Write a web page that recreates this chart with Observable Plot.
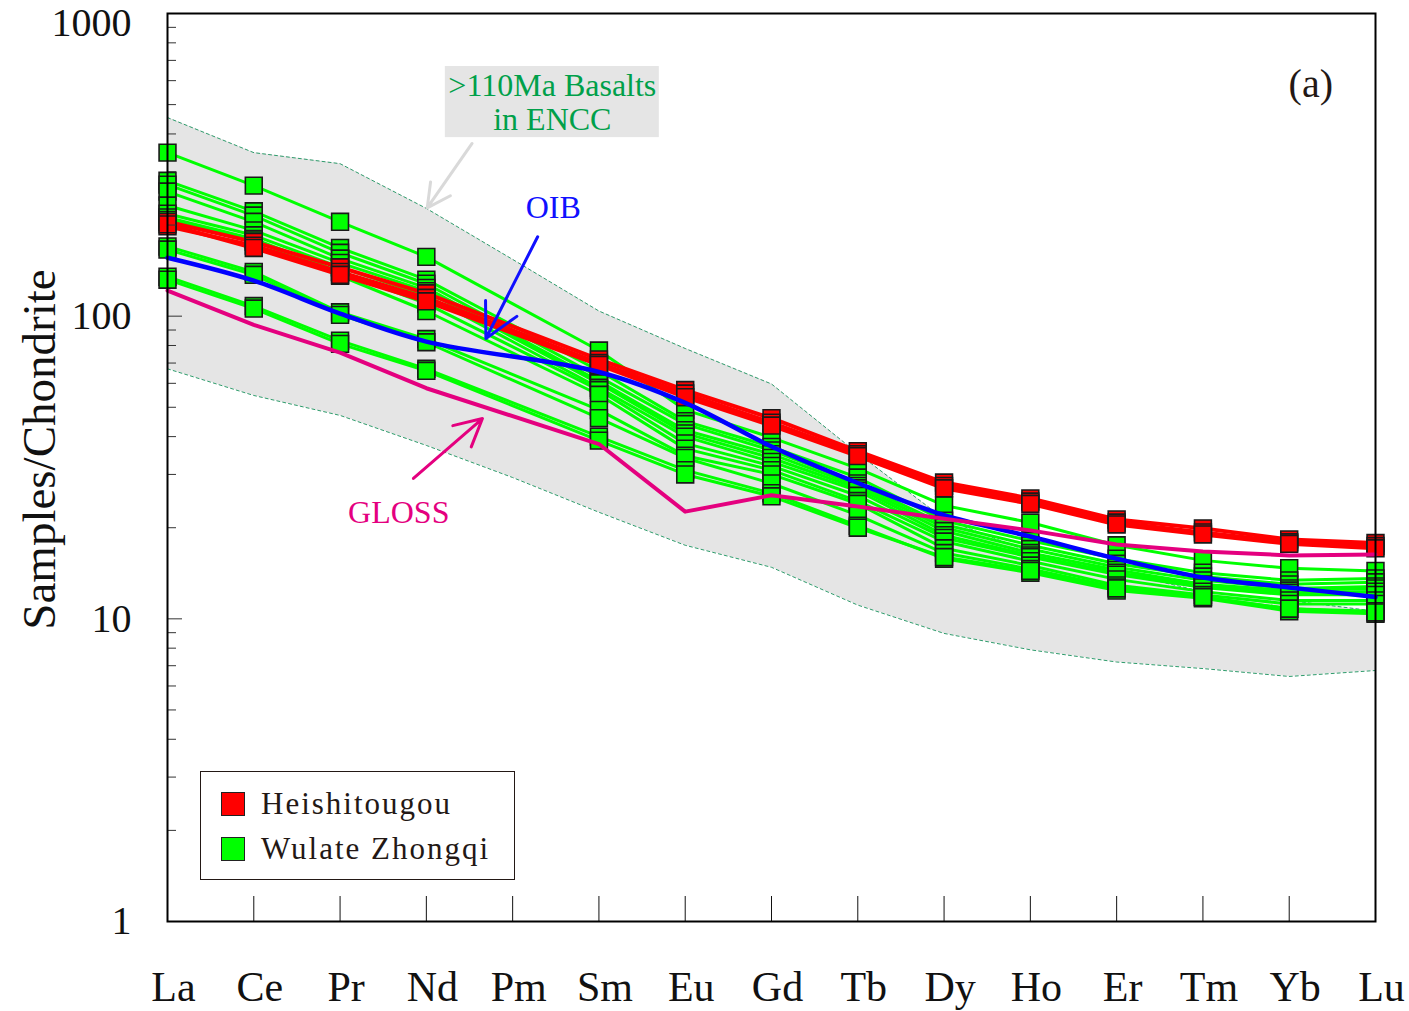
<!DOCTYPE html>
<html><head><meta charset="utf-8">
<script src="https://cdn.jsdelivr.net/npm/d3@7"></script>
<script src="https://cdn.jsdelivr.net/npm/@observablehq/plot@0.6"></script>
<style>
body{margin:0;background:#fff;}
#wrap{position:relative;width:1409px;height:1011px;font-family:"Liberation Serif",serif;}
#legend{position:absolute;left:200px;top:771px;width:315px;height:109px;border:1.6px solid #231815;background:#fff;box-sizing:border-box;}
.item{position:absolute;left:20px;display:flex;align-items:center;font-size:31px;letter-spacing:2px;color:#231815;}
.sw{width:24px;height:24px;border:1.5px solid #222;margin-right:16px;box-sizing:border-box;}
</style></head>
<body><div id="wrap"><div id="chart"></div>
<div id="legend">
  <div class="item" style="top:14px"><div class="sw" style="background:#ff0000"></div><span id="lg1"></span></div>
  <div class="item" style="top:59px"><div class="sw" style="background:#00ff00"></div><span id="lg2"></span></div>
</div></div>
<script>
// ---- categories ----
const ree = ["La","Ce","Pr","Nd","Pm","Sm","Eu","Gd","Tb","Dy","Ho","Er","Tm","Yb","Lu"];
// ---- tick values ----
const yTicks = [1, 10, 100];
const yTopTick = [1000];
const yMajorInner = [10, 100];
const yMinorTicks = [2,3,4,5,6,7,8,9,20,30,40,50,60,70,80,90,200,300,400,500,600,700,800,900];
const xInnerTicks = [1,2,3,4,5,6,7,8,9,10,11,12,13];
const yLabel = "Samples/Chondrite";
const legendNames = ["Heishitougou", "Wulate Zhongqi"];

// ---- Heishitougou (red) samples, null = Pm not analysed ----
const red1 = [205, 176, 145, 119, null, 72, 57, 46, 35.8, 28.2, 25.0, 21.3, 19.9, 18.3, 17.8];
const red2 = [198, 171, 140, 115, null, 70, 55.5, 44.5, 35.0, 27.5, 24.4, 20.8, 19.3, 17.9, 17.4];
const red3 = [201, 168, 137, 112, null, 69, 54, 43.5, 34.5, 27.0, 24.0, 20.5, 19.0, 17.7, 17.1];

// ---- Wulate Zhongqi (green) samples ----
const grn1  = [347, 270, 205, 157, null, 77, 49, 39.7, 31.4, 23.7, 20.8, 17.5, 15.6, 14.7, 14.4];
const grn2  = [280, 222, 168, 132, null, 66, 45, 37, 29.3, 21.1, 18.1, 15.8, 14.2, 13.4, 13.6];
const grn3  = [272, 215, 162, 128, null, 63, 44, 36, 28, 20.5, 17.5, 15.2, 13.8, 13.0, 13.2];
const grn4  = [258, 205, 155, 124, null, 61, 42, 35, 27.5, 20, 17, 14.8, 13.4, 12.6, 12.8];
const grn5  = [232, 192, 150, 121, null, 60, 41, 34, 27, 19.5, 16.5, 14.5, 13.0, 12.4, 12.6];
const grn6  = [218, 185, 145, 117, null, 58, 40, 33, 26.5, 18.9, 16.2, 14.2, 12.9, 12.2, 12.3];
const grn7  = [212, 180, 140, 110, null, 57, 38, 32, 25.5, 18.5, 16, 14.0, 12.7, 12.0, 12.0];
const grn8  = [208, 178, 136, 104, null, 55, 36.5, 31, 24.5, 18, 15.5, 13.5, 12.3, 11.5, 11.5];
const grn9  = [170, 140, 103, 84, null, 49, 34.6, 30, 24, 17.1, 15, 12.9, 12.0, 11.2, 11.2];
const grn10 = [166, 137, 101, 82, null, 46, 34, 28, 22, 16.5, 14.6, 12.7, 11.8, 10.8, 10.6];
const grn11 = [135, 108, 83, 67, null, 40, 31, 26, 20.3, 15.8, 14.2, 12.4, 11.7, 10.6, 10.4];
const grn12 = [132, 106, 81, 66, null, 38.8, 30, 25.4, 20, 16.0, 14.4, 12.6, 11.8, 10.8, 10.5];

// ---- reference curves ----
const oib   = [156, 131, 102, 82.4, null, 65.4, 51.7, 37.1, 28.1, 22.0, 18.7, 15.8, 13.7, 12.7, 11.8];
const gloss = [121.5, 93.6, 75.8, 57.8, null, 37.8, 22.6, 25.6, 23.5, 21.4, 19.6, 17.6, 16.7, 16.2, 16.3];

// ---- >110 Ma basalts in ENCC envelope ----
const envHi = [453, 347, 319, 227, 154, 104, 78.2, 59.7, 35.2, 21.4, 16.6, 14.3, 12.3, 11.5, 10.6];
const envLo = [67, 54.7, 47, 37.4, 29.3, 22.5, 17.5, 14.8, 11.1, 8.95, 7.9, 7.2, 6.85, 6.45, 6.75];

// ---- annotations (data coords: x = REE index, y = normalized value) ----
const annText = [
  {x: 4.46, y: 578, text: ">110Ma Basalts", fill: "#00a04a"},
  {x: 4.46, y: 446, text: "in ENCC", fill: "#00a04a"},
  {x: 4.47, y: 228, text: "OIB", fill: "#1010ff"},
  {x: 2.68, y: 22.4, text: "GLOSS", fill: "#e4007f"}
];
const panelLabel = [{x: 13.25, y: 586, text: "(a)"}];
const annBox = [{x1: 3.22, x2: 5.70, y1: 389, y2: 668}];
const annArrows = [
  {x1: 3.53, y1: 372, x2: 3.01, y2: 228, stroke: "#d9d9d9"},
  {x1: 4.29, y1: 183, x2: 3.69, y2: 84.4, stroke: "#1010ff"},
  {x1: 2.85, y1: 29.1, x2: 3.65, y2: 45.9, stroke: "#e4007f"}
];

function rows(arr, id) {
  return arr.map((v, i) => ({i, v, id})).filter(d => d.v != null);
}
const redRows = [red1, red2, red3].flatMap((a, k) => rows(a, "r" + k));
const grnRows = [grn1,grn2,grn3,grn4,grn5,grn6,grn7,grn8,grn9,grn10,grn11,grn12].flatMap((a, k) => rows(a, "g" + k));
const oibRows = rows(oib, "oib");
const glossRows = rows(gloss, "gloss");
const env = ree.map((r, i) => ({i, lo: envLo[i], hi: envHi[i]}));

const font = "Liberation Serif";
const chart = Plot.plot({
  width: 1409, height: 1011,
  marginLeft: 167, marginRight: 34, marginTop: 13, marginBottom: 90,
  style: {fontFamily: font, background: "#fff", overflow: "visible"},
  x: {type: "linear", domain: [0, 14]},
  y: {type: "log", domain: [1, 1000]},
  marks: [
    Plot.areaY(env, {x: "i", y1: "lo", y2: "hi", fill: "#e5e5e5"}),
    Plot.line(env, {x: "i", y: "hi", stroke: "#2e9b6b", strokeWidth: 1, strokeDasharray: "3,3"}),
    Plot.line(env, {x: "i", y: "lo", stroke: "#2e9b6b", strokeWidth: 1, strokeDasharray: "3,3"}),
    Plot.ruleX(env.slice(-1), {x: "i", y1: "lo", y2: "hi", stroke: "#2e9b6b", strokeWidth: 1, strokeDasharray: "3,3"}),
    Plot.rect(annBox, {x1: "x1", x2: "x2", y1: "y1", y2: "y2", fill: "#e5e5e5"}),
    Plot.line(grnRows, {x: "i", y: "v", z: "id", stroke: "#00ff00", strokeWidth: 3}),
    Plot.dot(grnRows, {x: "i", y: "v", symbol: "square", r: 9.5, fill: "#00ff00", stroke: "#1a1a1a", strokeWidth: 1.6}),
    Plot.line(redRows, {x: "i", y: "v", z: "id", stroke: "#ff0000", strokeWidth: 4}),
    Plot.dot(redRows, {x: "i", y: "v", symbol: "square", r: 9.5, fill: "#ff0000", stroke: "#1a1a1a", strokeWidth: 1.6}),
    Plot.line(oibRows, {x: "i", y: "v", stroke: "#0000ff", strokeWidth: 4.5, curve: "catmull-rom"}),
    Plot.line(glossRows, {x: "i", y: "v", stroke: "#e4007f", strokeWidth: 4}),
    Plot.arrow(annArrows, {x1: "x1", y1: "y1", x2: "x2", y2: "y2", stroke: "stroke", strokeWidth: 3, headLength: 22, headAngle: 55}),
    Plot.text(annText, {x: "x", y: "y", text: "text", fill: "fill", fontSize: 32, fontFamily: font}),
    Plot.text(panelLabel, {x: "x", y: "y", text: "text", fill: "#231815", fontSize: 40, fontFamily: font}),
    Plot.axisY({ticks: yTicks, tickSize: 0, tickPadding: 36, fontSize: 40, fontFamily: font, fill: "#111", tickFormat: d => String(d), label: null}),
    Plot.axisY({ticks: yTopTick, tickSize: 0, tickPadding: 36, dy: 10, fontSize: 40, fontFamily: font, fill: "#111", tickFormat: d => String(d), label: null}),
    Plot.axisY({ticks: yMinorTicks, tickSize: -9, tickFormat: () => "", label: null, stroke: "#333"}),
    Plot.axisY({ticks: yMajorInner, tickSize: -15, tickFormat: () => "", label: null, stroke: "#333"}),
    Plot.axisX({ticks: xInnerTicks, tickSize: -25, tickFormat: () => "", label: null, stroke: "#111"}),
    Plot.axisX({ticks: ree.map((r, i) => i), tickSize: 0, tickPadding: 50, dx: 6, fontSize: 42, fontFamily: font, fill: "#111", tickFormat: i => ree[i], label: null}),
    Plot.text([yLabel], {frameAnchor: "left", text: d => d, rotate: -90, textAnchor: "middle", dx: -128, dy: -18, fontSize: 47, fontFamily: font, fill: "#111"}),
    Plot.frame({stroke: "#000", strokeWidth: 2})
  ]
});
document.getElementById("chart").appendChild(chart);
document.getElementById("lg1").textContent = legendNames[0];
document.getElementById("lg2").textContent = legendNames[1];
</script>
</body></html>
